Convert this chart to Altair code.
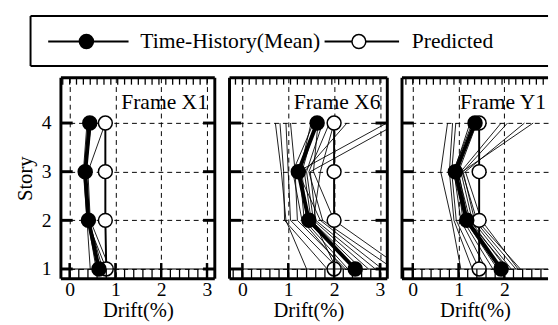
import altair as alt
import pandas as pd
import numpy as np

FONT = "Liberation Serif"

stories = [1, 2, 3, 4]
story_ticks = [1, 2, 3, 4]
panel_names = ["Frame X1", "Frame X6", "Frame Y1"]
legend_labels = ["Time-History(Mean)", "Predicted"]

# mean of time-history analyses (story 1..4)
mean_x1 = [0.64, 0.41, 0.34, 0.44]
mean_x6 = [2.46, 1.45, 1.22, 1.63]
mean_y1 = [1.93, 1.18, 0.93, 1.36]

# predicted drift (story 1..4)
pred_x1 = [0.80, 0.78, 0.78, 0.78]
pred_x6 = [2.00, 2.00, 2.00, 2.00]
pred_y1 = [1.45, 1.45, 1.45, 1.45]

# individual time-history records (story 1..4)
records_x1 = [
    [0.45, 0.38, 0.36, 0.42],
    [0.58, 0.40, 0.33, 0.40],
    [0.72, 0.42, 0.35, 0.47],
    [0.88, 0.45, 0.40, 0.78],
    [0.80, 0.38, 0.30, 0.38],
]
records_x6 = [
    [1.40, 0.95, 0.85, 0.72],
    [1.85, 0.92, 0.90, 0.82],
    [2.10, 1.05, 1.00, 0.95],
    [2.25, 1.20, 1.15, 1.05],
    [2.30, 1.35, 1.25, 1.50],
    [2.45, 1.40, 1.30, 1.60],
    [2.60, 1.50, 1.35, 2.28],
    [2.75, 1.55, 1.40, 1.75],
    [2.90, 1.60, 1.48, 3.40],
    [3.05, 1.70, 1.21, 3.15],
    [3.30, 1.75, 1.45, 1.90],
    [3.50, 2.00, 1.55, 1.65],
    [2.20, 1.30, 1.10, 1.55],
    [2.05, 1.55, 1.70, 2.00],
]
records_y1 = [
    [1.05, 0.85, 0.61, 0.76],
    [1.30, 0.90, 0.80, 0.87],
    [1.45, 0.95, 0.85, 0.94],
    [1.60, 1.05, 0.90, 1.25],
    [1.75, 1.10, 0.95, 1.35],
    [1.85, 1.15, 0.88, 1.30],
    [1.95, 1.20, 1.00, 1.40],
    [2.05, 1.25, 0.98, 1.33],
    [2.15, 1.30, 1.05, 1.93],
    [2.25, 1.35, 1.10, 2.07],
    [2.35, 1.40, 1.08, 2.63],
    [2.30, 1.50, 1.15, 2.44],
    [2.10, 1.20, 0.92, 1.38],
]

H = 205
Y_DOMAIN = [0.8, 4.93]


def one():
    return pd.DataFrame({"a": [0]})


def panel(name, mean, pred, recs, dom, width, xvals, first, right_side):
    xs = alt.Scale(domain=dom, nice=False, zero=False)
    ys = alt.Scale(domain=Y_DOMAIN, nice=False, zero=False)
    common = dict(grid=True, gridDash=[5, 4], gridColor="black", gridWidth=1,
                  gridOpacity=1, ticks=False, domain=False)
    xaxis = alt.Axis(values=xvals, title="Drift(%)", labelFontSize=20,
                     titleFontSize=21, labelPadding=1, titlePadding=1, **common)
    if first:
        yaxis = alt.Axis(values=story_ticks, title="Story", labelFontSize=20,
                         titleFontSize=21, labelPadding=10, titlePadding=6, **common)
    else:
        yaxis = alt.Axis(values=story_ticks, title=None, labels=False, **common)
    X = alt.X("drift:Q", scale=xs, axis=xaxis)
    Y = alt.Y("story:Q", scale=ys, axis=yaxis)

    rec_df = pd.DataFrame([
        {"rec": i, "story": s, "drift": v}
        for i, r in enumerate(recs) for s, v in zip(stories, r)
    ])
    mean_df = pd.DataFrame({"story": stories, "drift": mean})
    pred_df = pd.DataFrame({"story": stories, "drift": pred})

    layers = []
    layers.append(alt.Chart(rec_df).mark_line(color="black", strokeWidth=0.9, clip=True).encode(
        x=X, y=Y, detail="rec:N", order="story:Q"))
    layers.append(alt.Chart(mean_df).mark_line(color="black", strokeWidth=4).encode(
        x=X, y=Y, order="story:Q"))
    layers.append(alt.Chart(pred_df).mark_line(color="black", strokeWidth=2).encode(
        x=X, y=Y, order="story:Q"))
    layers.append(alt.Chart(pred_df).mark_point(shape="circle", filled=True, fill="white",
                                                stroke="black", strokeWidth=1.5, size=200,
                                                opacity=1).encode(x=X, y=Y))
    layers.append(alt.Chart(mean_df).mark_point(shape="circle", filled=True, fill="black",
                                                stroke="black", size=190, opacity=1).encode(x=X, y=Y))

    # frame
    layers.append(alt.Chart(one()).mark_rule(color="black", strokeWidth=3).encode(
        x=alt.value(0), y=alt.value(0), y2=alt.value(H)))
    layers.append(alt.Chart(one()).mark_rule(color="black", strokeWidth=3).encode(
        y=alt.value(0), x=alt.value(0), x2=alt.value(width)))
    layers.append(alt.Chart(one()).mark_rule(color="black", strokeWidth=3).encode(
        y=alt.value(H), x=alt.value(0), x2=alt.value(width)))
    if right_side:
        layers.append(alt.Chart(one()).mark_rule(color="black", strokeWidth=3).encode(
            x=alt.value(width), y=alt.value(0), y2=alt.value(H)))

    # thick story ticks
    st_df = pd.DataFrame({"story": story_ticks})
    layers.append(alt.Chart(st_df).mark_rule(color="black", strokeWidth=3).encode(
        y=Y, x=alt.value(0), x2=alt.value(12)))
    if right_side:
        layers.append(alt.Chart(st_df).mark_rule(color="black", strokeWidth=3).encode(
            y=Y, x=alt.value(width - 12), x2=alt.value(width)))
    layers.append(alt.Chart(pd.DataFrame({"story": [1]})).mark_rule(color="black", strokeWidth=1.2).encode(
        y=Y, x=alt.value(0), x2=alt.value(width)))

    # minor ticks top / bottom
    top = np.round(np.arange(-0.15, 3.3, 0.15), 3)
    top = top[(top > dom[0] + 0.03) & (top < dom[1] - 0.03)]
    bot = np.round(np.arange(-0.2, 3.3, 0.2), 3)
    bot = bot[(bot > dom[0] + 0.03) & (bot < dom[1] - 0.03)]
    maj = [v for v in [0, 1, 2, 3] if dom[0] < v < dom[1]]
    layers.append(alt.Chart(pd.DataFrame({"drift": top})).mark_rule(color="black", strokeWidth=1.3).encode(
        x=X, y=alt.value(0), y2=alt.value(7)))
    layers.append(alt.Chart(pd.DataFrame({"drift": bot})).mark_rule(color="black", strokeWidth=1.3).encode(
        x=X, y=alt.value(H - 10), y2=alt.value(H)))
    layers.append(alt.Chart(pd.DataFrame({"drift": maj})).mark_rule(color="black", strokeWidth=2.5).encode(
        x=X, y=alt.value(H - 16), y2=alt.value(H)))

    # panel label
    layers.append(alt.Chart(pd.DataFrame({"label": [name]})).mark_text(
        align="right", baseline="alphabetic", fontSize=22, font=FONT, color="black").encode(
        x=alt.value(width - 7 if right_side else width - 2), y=alt.value(32), text="label:N"))

    if first:
        # legend box
        for enc in [dict(x=alt.value(-31), x2=alt.value(497), y=alt.value(-63)),
                    dict(x=alt.value(-31), x2=alt.value(497), y=alt.value(-12)),
                    dict(x=alt.value(-31), y=alt.value(-63), y2=alt.value(-12))]:
            layers.append(alt.Chart(one()).mark_rule(color="black", strokeWidth=2).encode(**enc))
        layers.append(alt.Chart(one()).mark_rule(color="black", strokeWidth=2).encode(
            x=alt.value(-13), x2=alt.value(69), y=alt.value(-37)))
        layers.append(alt.Chart(one()).mark_rule(color="black", strokeWidth=2).encode(
            x=alt.value(269), x2=alt.value(345), y=alt.value(-37)))
        layers.append(alt.Chart(one()).mark_point(shape="circle", filled=True, fill="black",
                                                  stroke="black", size=190, opacity=1).encode(
            x=alt.value(26), y=alt.value(-37)))
        layers.append(alt.Chart(one()).mark_point(shape="circle", filled=True, fill="white",
                                                  stroke="black", strokeWidth=1.5, size=200,
                                                  opacity=1).encode(
            x=alt.value(304), y=alt.value(-37)))
        leg_df = pd.DataFrame({"label": legend_labels})
        layers.append(alt.Chart(leg_df.iloc[[0]]).mark_text(
            align="left", baseline="middle", fontSize=22, font=FONT, color="black").encode(
            x=alt.value(81), y=alt.value(-37), text="label:N"))
        layers.append(alt.Chart(leg_df.iloc[[1]]).mark_text(
            align="left", baseline="middle", fontSize=22, font=FONT, color="black").encode(
            x=alt.value(358), y=alt.value(-37), text="label:N"))

    return alt.layer(*layers).properties(width=width, height=H)


p1 = panel(panel_names[0], mean_x1, pred_x1, records_x1, [-0.19, 3.17], 157, [0, 1, 2, 3], True, True)
p2 = panel(panel_names[1], mean_x6, pred_x6, records_x6, [-0.28, 3.16], 161, [0, 1, 2, 3], False, True)
p3 = panel(panel_names[2], mean_y1, pred_y1, records_y1, [-0.235, 2.955], 149, [0, 1, 2], False, False)

chart = alt.hconcat(p1, p2, p3, spacing=15, bounds="flush").properties(
    padding={"left": 7, "top": 4, "right": 0, "bottom": 0}
).configure_view(stroke=None).configure_axis(
    labelFont=FONT, titleFont=FONT, labelColor="black", titleColor="black",
    titleFontWeight="normal"
).configure_text(font=FONT)

chart.save("out.html", embed_options={"renderer": "svg", "actions": False})
